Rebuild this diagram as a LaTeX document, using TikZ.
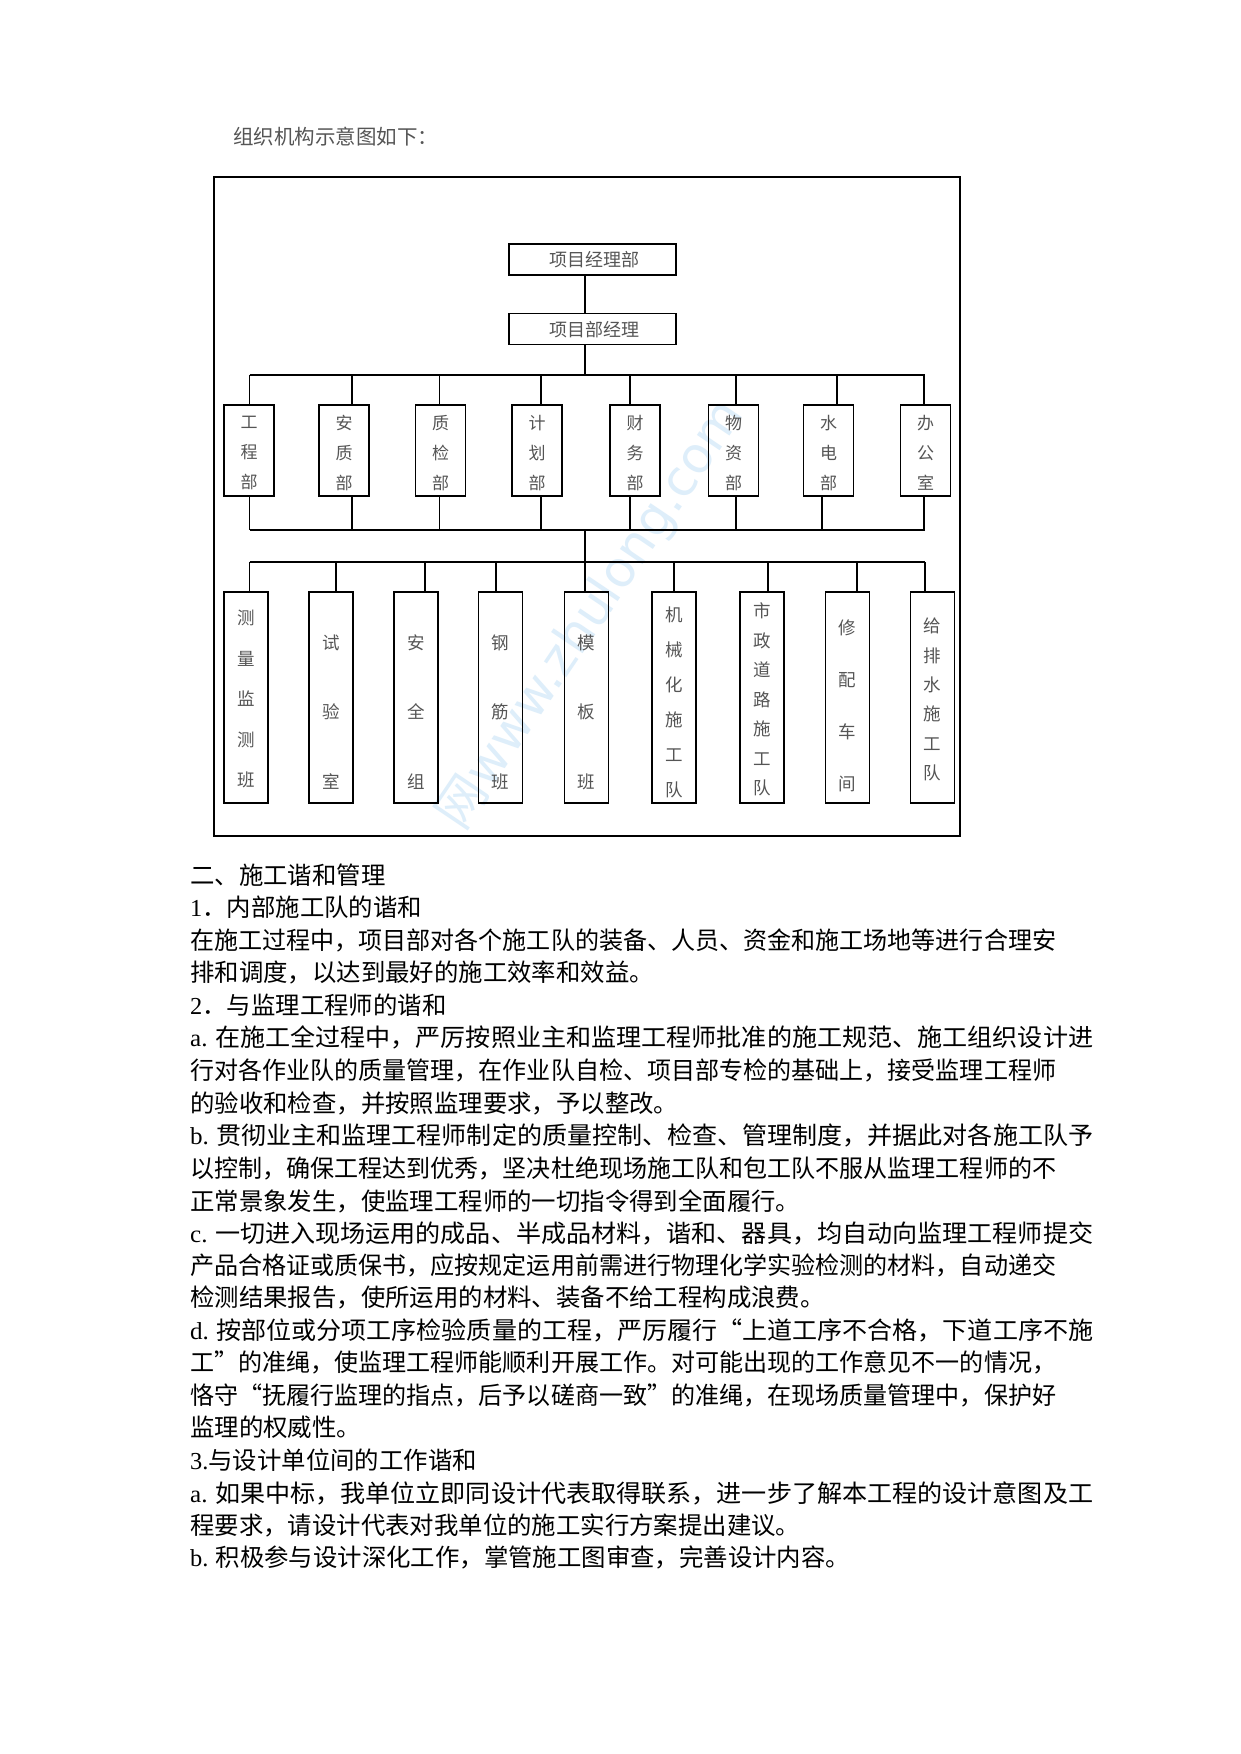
\documentclass[tikz,border=0pt]{standalone}
\usepackage{fontspec}
\usepackage{graphicx}
\setmainfont{Liberation Serif}
\newfontfamily\cjk{Noto Sans CJK SC}
\newfontfamily\latf{Liberation Serif}
\newfontfamily\wmf{DejaVu Sans}
\definecolor{chartgray}{RGB}{85,85,85}
\definecolor{wmblue}{RGB}{222,238,250}
\newcommand\jline[2]{\resizebox{#1pt}{\height}{#2}}
\begin{document}
\begin{tikzpicture}[x=1pt,y=-1pt,
  frame/.style={draw, line width=1.6},
  hbox/.style={draw, line width=1.5, inner sep=0, minimum width=167, minimum height=31},
  dbox/.style={draw, line width=1.5, inner sep=0, minimum width=50, minimum height=91},
  tbox/.style={draw, line width=1.5, inner sep=0, minimum width=44, minimum height=211},
  conn/.style={line width=1.5},
  htxt/.style={inner sep=0, text=chartgray, font={\cjk\fontsize{18}{20}\selectfont}},
  vtxt/.style={inner sep=0, text=chartgray, align=center},
  body/.style={anchor=west, inner sep=0, font={\cjk\fontsize{24.4}{30}\selectfont}},
]
\useasboundingbox[fill=white] (0,0) rectangle (1241,1754);

% watermark
\node[inner sep=0, text=wmblue, rotate=56, font={\wmf\fontsize{50}{50}\selectfont}] (wm) at (592,615) {{\cjk 网}www.zhulong.com};

% title
\node[anchor=west, inner sep=0, text=chartgray, font={\cjk\fontsize{20.5}{22}\selectfont}] (title) at (233,137) {组织机构示意图如下：};

% frame
\node[frame, inner sep=0, minimum width=746, minimum height=659] (fr) at (587,506.5) {};

% top boxes
\node[hbox] (A) at (592.5,259.5) {};
\node[htxt] (At) at (594,260) {项目经理部};
\node[hbox] (B) at (592.5,329) {};
\node[htxt] (Bt) at (594,329.5) {项目部经理};

\coordinate (bus1) at (0,375);
\coordinate (bus2) at (0,530);
\coordinate (bus3) at (0,562);

\draw[conn] ([xshift=-7.5pt]A.south) -- ([xshift=-7.5pt]B.north);
\draw[conn] ([xshift=-7.5pt]B.south) -- ([xshift=-7.5pt]B.south |- bus1);

% department boxes
\foreach \n/\x/\t in {1/249/工\\程\\部, 2/344/安\\质\\部, 3/440.5/质\\检\\部, 4/537/计\\划\\部,
                      5/635/财\\务\\部, 6/733.5/物\\资\\部, 7/828.5/水\\电\\部, 8/925.5/办\\公\\室}{
  \node[dbox] (d\n) at (\x,450.5) {};
  \node[vtxt, font={\cjk\fontsize{17}{30}\selectfont}] (d\n t) at (\x,453) {\t};
}
% stems of departments: name/top offset/bottom offset
\foreach \n/\a/\b in {1/0.5/0.5, 2/8/8, 3/-1/-1, 4/4/4, 5/-5/-5, 6/2.5/2.5, 7/8.5/-6.5, 8/-1.5/-1.5}{
  \draw[conn] ([xshift=\a pt]d\n.north) -- ([xshift=\a pt]d\n.north |- bus1);
  \draw[conn] ([xshift=\b pt]d\n.south) -- ([xshift=\b pt]d\n.south |- bus2);
}
\draw[conn] ([xshift=0.5pt]d1.north |- bus1) -- ([xshift=-0.5pt]d8.north |- bus1);
\draw[conn] ([xshift=0.5pt]d1.south |- bus2) -- ([xshift=-0.5pt]d8.south |- bus2);

% trunk between bus2 and bus3
\coordinate (trunk) at (585,0);
\draw[conn] (trunk |- bus2) -- (trunk |- bus3);

% team boxes
\foreach \n/\x/\o/\cy/\s/\t in {
  1/246/3.5/699/40.5/测\\量\\监\\测\\班,
  2/331/5/712/69.5/试\\验\\室,
  3/416/9/712/69.5/安\\全\\组,
  4/500.5/-4.5/712/69.5/钢\\筋\\班,
  5/586.5/-1.5/712/69.5/模\\板\\班,
  6/674/0/702.5/35/机\\械\\化\\施\\工\\队,
  7/762/6/699.5/29.5/市\\政\\道\\路\\施\\工\\队,
  8/847.5/9.5/706/52/修\\配\\车\\间,
  9/932.5/-7.5/699.5/29.4/给\\排\\水\\施\\工\\队}{
  \node[tbox] (t\n) at (\x,697.5) {};
  \node[vtxt, font={\cjk\fontsize{17.5}{\s}\selectfont}] (t\n t) at (\x,\cy) {\t};
  \draw[conn] ([xshift=\o pt]t\n.north) -- ([xshift=\o pt]t\n.north |- bus3);
}
\draw[conn] ([xshift=3.5pt]t1.north |- bus3) -- ([xshift=-7.5pt]t9.north |- bus3);

% body text
\node[body] (l1) at (190,875) {二、施工谐和管理};
\node[body] (l2) at (190,907) {{\latf 1}．内部施工队的谐和};
\node[body] (l3) at (190,940) {\jline{866}{在施工过程中，项目部对各个施工队的装备、人员、资金和施工场地等进行合理安}};
\node[body] (l4) at (190,972) {排和调度，以达到最好的施工效率和效益。};
\node[body] (l5) at (190,1005) {{\latf 2}．与监理工程师的谐和};
\node[body] (l6) at (190,1037) {\jline{903}{{\latf a.} 在施工全过程中，严厉按照业主和监理工程师批准的施工规范、施工组织设计进}};
\node[body] (l7) at (190,1070) {\jline{866}{行对各作业队的质量管理，在作业队自检、项目部专检的基础上，接受监理工程师}};
\node[body] (l8) at (190,1103) {的验收和检查，并按照监理要求，予以整改。};
\node[body] (l9) at (190,1135) {\jline{903}{{\latf b.} 贯彻业主和监理工程师制定的质量控制、检查、管理制度，并据此对各施工队予}};
\node[body] (l10) at (190,1168) {\jline{866}{以控制，确保工程达到优秀，坚决杜绝现场施工队和包工队不服从监理工程师的不}};
\node[body] (l11) at (190,1201) {正常景象发生，使监理工程师的一切指令得到全面履行。};
\node[body] (l12) at (190,1233) {\jline{903}{{\latf c.} 一切进入现场运用的成品、半成品材料，谐和、器具，均自动向监理工程师提交}};
\node[body] (l13) at (190,1265) {\jline{866}{产品合格证或质保书，应按规定运用前需进行物理化学实验检测的材料，自动递交}};
\node[body] (l14) at (190,1297) {检测结果报告，使所运用的材料、装备不给工程构成浪费。};
\node[body] (l15) at (190,1330) {\jline{903}{{\latf d.} 按部位或分项工序检验质量的工程，严厉履行“上道工序不合格，下道工序不施}};
\node[body] (l16) at (190,1362) {\jline{866}{工”的准绳，使监理工程师能顺利开展工作。对可能出现的工作意见不一的情况，}};
\node[body] (l17) at (190,1395) {\jline{866}{恪守“抚履行监理的指点，后予以磋商一致”的准绳，在现场质量管理中，保护好}};
\node[body] (l18) at (190,1427) {监理的权威性。};
\node[body] (l19) at (190,1460) {{\latf 3.}与设计单位间的工作谐和};
\node[body] (l20) at (190,1493) {\jline{903}{{\latf a.} 如果中标，我单位立即同设计代表取得联系，进一步了解本工程的设计意图及工}};
\node[body] (l21) at (190,1525) {程要求，请设计代表对我单位的施工实行方案提出建议。};
\node[body] (l22) at (190,1557) {{\latf b.} 积极参与设计深化工作，掌管施工图审查，完善设计内容。};
\end{tikzpicture}
\end{document}
